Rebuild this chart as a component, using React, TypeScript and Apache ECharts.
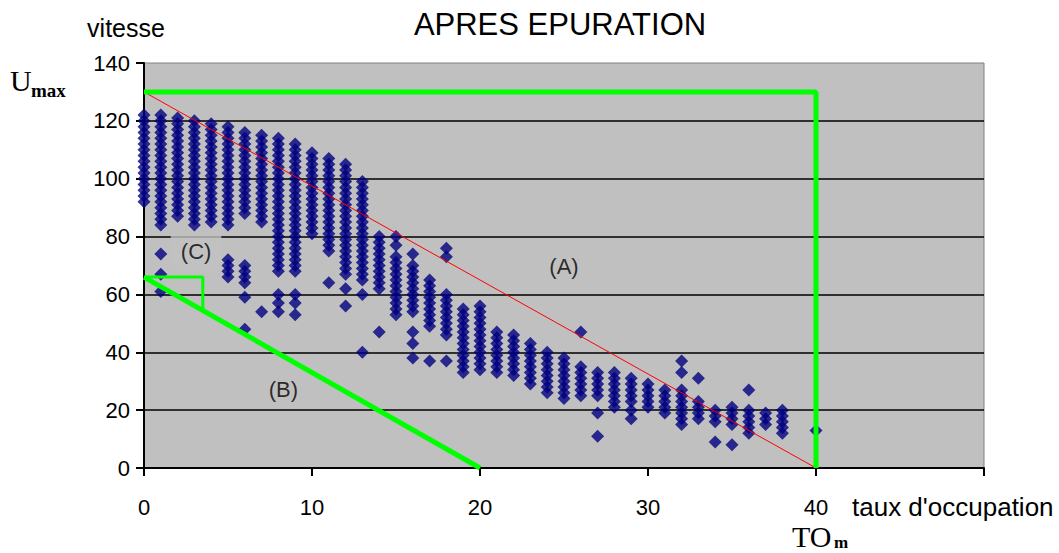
import React, { useEffect, useRef } from "react";
import * as echarts from "echarts";

// taux d'occupation (x) of each column of measurements
const occupancy = [
  0, 1, 2, 3, 4, 5, 6, 7, 8, 9, 10, 11, 12, 13, 14, 15, 16, 17, 18, 19, 20,
  21, 22, 23, 24, 25, 26, 27, 28, 29, 30, 31, 32, 33, 34, 35, 36, 37, 38, 40,
];

// vitesse values measured at each occupancy (one list per column)
const speeds: number[][] = [
  [122, 120, 118, 116, 114, 112, 110, 108, 106, 104, 102, 100, 98, 96, 94, 92],
  [122, 120, 118, 116, 114, 112, 110, 108, 106, 104, 102, 100, 98, 96, 94, 92, 90, 88, 86, 84, 74, 67, 61],
  [121, 119, 117, 115, 113, 111, 109, 107, 105, 103, 101, 99, 97, 95, 93, 91, 89, 87],
  [120, 118, 116, 114, 112, 110, 108, 106, 104, 102, 100, 98, 96, 94, 92, 90, 88, 86, 84],
  [119, 117, 115, 113, 111, 109, 107, 105, 103, 101, 99, 97, 95, 93, 91, 89, 87, 85],
  [118, 116, 114, 112, 110, 108, 106, 104, 102, 100, 98, 96, 94, 92, 90, 88, 86, 84, 72, 70, 68, 66],
  [116, 114, 112, 110, 108, 106, 104, 102, 100, 98, 96, 94, 92, 90, 88, 70, 68, 66, 64, 59, 48],
  [115, 113, 111, 109, 107, 105, 103, 101, 99, 97, 95, 93, 91, 89, 87, 85, 54],
  [114, 112, 110, 108, 106, 104, 102, 100, 98, 96, 94, 92, 90, 88, 86, 84, 82, 80, 78, 76, 74, 72, 70, 68, 60, 57, 54],
  [112, 110, 108, 106, 104, 102, 100, 98, 96, 94, 92, 90, 88, 86, 84, 82, 80, 78, 76, 74, 72, 70, 68, 60, 57, 53],
  [109, 107, 105, 103, 101, 99, 97, 95, 93, 91, 89, 87, 85, 83, 81],
  [107, 105, 103, 101, 99, 97, 95, 93, 91, 89, 87, 85, 83, 81, 79, 77, 75, 64],
  [105, 103, 101, 99, 97, 95, 93, 91, 89, 87, 85, 83, 81, 79, 77, 75, 73, 71, 69, 67, 62, 56],
  [99, 97, 95, 93, 91, 89, 87, 85, 83, 81, 79, 77, 75, 73, 71, 69, 67, 65, 60, 40],
  [80, 78, 76, 74, 72, 70, 68, 66, 64, 62, 47],
  [80, 77, 73, 71, 69, 67, 65, 63, 61, 59, 57, 55, 53],
  [74, 70, 68, 66, 64, 62, 60, 58, 56, 54, 47, 43, 38],
  [65, 63, 61, 59, 57, 55, 53, 51, 49, 37],
  [76, 73, 60, 58, 56, 54, 52, 50, 48, 46, 37],
  [55, 53, 51, 49, 47, 45, 43, 41, 39, 37, 35, 33],
  [56, 54, 52, 50, 48, 46, 44, 42, 40, 38, 36, 34],
  [47, 45, 43, 41, 39, 37, 35, 33],
  [46, 44, 42, 40, 38, 36, 34, 32],
  [43, 41, 39, 37, 35, 33, 31, 29],
  [40, 38, 36, 34, 32, 30, 28, 26],
  [38, 36, 34, 32, 30, 28, 26, 24],
  [47, 35, 33, 31, 29, 27, 25],
  [33, 31, 29, 27, 25, 19, 11],
  [33, 31, 29, 27, 25, 23, 21],
  [31, 29, 27, 25, 23, 20, 17],
  [29, 27, 25, 23, 21],
  [27, 25, 23, 21, 19],
  [37, 33, 27, 25, 23, 21, 19, 17, 15],
  [31, 23, 21, 19, 17],
  [20, 18, 16, 9],
  [21, 19, 17, 15, 8],
  [27, 20, 18, 16, 14, 12],
  [19, 17, 15],
  [20, 18, 16, 14, 12],
  [13],
];

// limit lines
const lineA = [[0, 130], [40, 0]];
const frameA = [[0, 130], [40, 130], [40, 0]];
const lineB = [[0, 66], [20, 0]];
const zoneC = [[0, 66], [3.5, 66], [3.5, 54.5]];

// zone annotations
const zoneNames = ["(A)", "(B)", "(C)"];
const zoneX = [25, 8.3, 3.1];
const zoneY = [69.5, 27, 74.7];

const xTicks = [0, 10, 20, 30, 40];

const SANS = "'Liberation Sans', Arial, sans-serif";
const SERIF = "'Liberation Serif', 'Times New Roman', serif";

export default function App() {
  const ref = useRef<HTMLDivElement>(null);

  useEffect(() => {
    if (!ref.current) return;
    const chart = echarts.init(ref.current, undefined, { renderer: "svg" });

    const points: number[][] = [];
    occupancy.forEach((x, i) => {
      speeds[i].forEach((y) => points.push([x, y]));
    });

    const zoneData = zoneNames.map((n, i) => {
      const item: any = { name: n, value: [zoneX[i], zoneY[i]] };
      if (n === "(C)") {
        item.label = { backgroundColor: "#c0c0c0", padding: [7, 10] };
      }
      return item;
    });

    chart.setOption({
      animation: false,
      grid: {
        left: 144,
        right: 75,
        top: 63,
        bottom: 85,
        show: true,
        backgroundColor: "#c0c0c0",
        borderColor: "#808080",
        borderWidth: 1,
      },
      xAxis: {
        type: "value",
        min: 0,
        max: 50,
        interval: 10,
        axisLine: { show: true, onZero: false, lineStyle: { color: "#000", width: 2 } },
        axisTick: { show: true, length: 8, lineStyle: { color: "#000", width: 2 } },
        splitLine: { show: false },
        axisLabel: {
          margin: 28,
          fontSize: 22,
          fontFamily: SANS,
          color: "#000",
          formatter: (v: number) => (xTicks.indexOf(v) >= 0 ? String(v) : ""),
        },
      },
      yAxis: {
        type: "value",
        min: 0,
        max: 140,
        interval: 20,
        axisLine: { show: true, lineStyle: { color: "#000", width: 2 } },
        axisTick: { show: true, length: 8, lineStyle: { color: "#000", width: 2 } },
        splitLine: {
          show: true,
          showMinLine: false,
          showMaxLine: false,
          lineStyle: { color: "#000", width: 1.5 },
        },
        axisLabel: { margin: 14, fontSize: 22, fontFamily: SANS, color: "#000" },
      },
      series: [
        {
          type: "scatter",
          data: points,
          symbol: "diamond",
          symbolSize: 13,
          itemStyle: { color: "#000080" },
          z: 2,
        },
        {
          type: "line",
          data: lineA,
          symbol: "none",
          lineStyle: { color: "#ff0000", width: 1 },
          z: 3,
        },
        {
          type: "line",
          data: frameA,
          symbol: "none",
          lineStyle: { color: "#00ff00", width: 5 },
          z: 4,
        },
        {
          type: "line",
          data: lineB,
          symbol: "none",
          lineStyle: { color: "#00ff00", width: 5 },
          z: 4,
        },
        {
          type: "line",
          data: zoneC,
          symbol: "none",
          lineStyle: { color: "#00ff00", width: 3 },
          z: 4,
        },
        {
          type: "scatter",
          data: zoneData,
          symbolSize: 0,
          z: 5,
          label: {
            show: true,
            position: "inside",
            formatter: "{b}",
            fontSize: 22,
            fontFamily: SANS,
            color: "#000",
          },
        },
      ],
      graphic: [
        {
          type: "text",
          x: 560,
          y: 24,
          style: {
            text: "APRES EPURATION",
            font: `31px ${SANS}`,
            fill: "#000",
            textAlign: "center",
            textVerticalAlign: "middle",
          },
        },
        {
          type: "text",
          x: 126,
          y: 28,
          style: {
            text: "vitesse",
            font: `25px ${SANS}`,
            fill: "#000",
            textAlign: "center",
            textVerticalAlign: "middle",
          },
        },
        {
          type: "text",
          x: 10,
          y: 80,
          style: {
            text: "U",
            font: `30px ${SERIF}`,
            fill: "#000",
            textAlign: "left",
            textVerticalAlign: "middle",
          },
        },
        {
          type: "text",
          x: 31,
          y: 90,
          style: {
            text: "max",
            font: `bold 19px ${SERIF}`,
            fill: "#000",
            textAlign: "left",
            textVerticalAlign: "middle",
          },
        },
        {
          type: "text",
          x: 852,
          y: 507,
          style: {
            text: "taux d'occupation",
            font: `26px ${SANS}`,
            fill: "#000",
            textAlign: "left",
            textVerticalAlign: "middle",
          },
        },
        {
          type: "text",
          x: 792,
          y: 536,
          style: {
            text: "TO",
            font: `30px ${SERIF}`,
            fill: "#000",
            textAlign: "left",
            textVerticalAlign: "middle",
          },
        },
        {
          type: "text",
          x: 834,
          y: 542,
          style: {
            text: "m",
            font: `bold 17px ${SERIF}`,
            fill: "#000",
            textAlign: "left",
            textVerticalAlign: "middle",
          },
        },
      ],
    });

    return () => chart.dispose();
  }, []);

  return (
    <div
      ref={ref}
      style={{ position: "fixed", left: 0, top: 0, width: 1059, height: 553, background: "#fff" }}
    />
  );
}
